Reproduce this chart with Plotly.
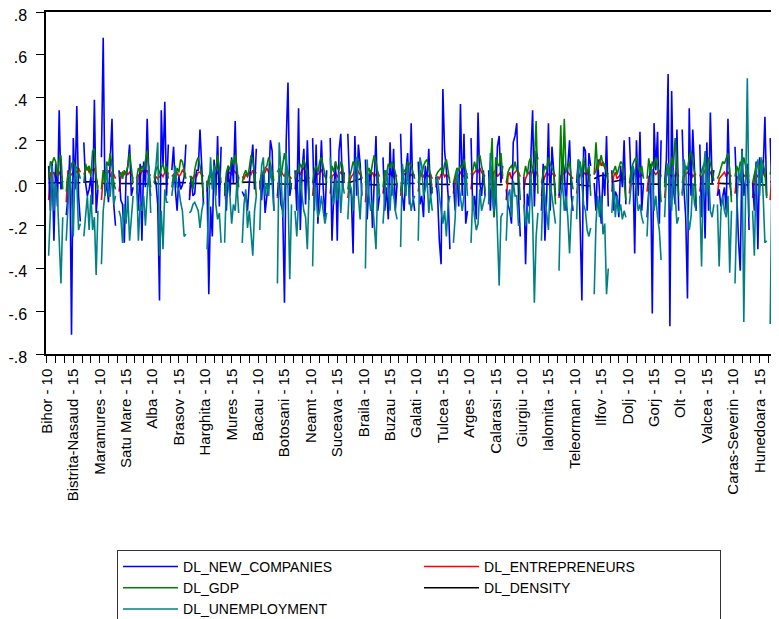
import plotly.graph_objects as go

counties = ["Bihor", "Bistrita-Nasaud", "Cluj", "Maramures", "Satu Mare", "Salaj",
            "Alba", "Brasov", "Covasna", "Harghita", "Mures", "Sibiu",
            "Bacau", "Botosani", "Iasi", "Neamt", "Suceava", "Vaslui",
            "Braila", "Buzau", "Constanta", "Galati", "Tulcea", "Vrancea",
            "Arges", "Calarasi", "Dambovita", "Giurgiu", "Ialomita", "Prahova", "Teleorman",
            "Ilfov", "Bucuresti", "Dolj", "Gorj", "Mehedinti", "Olt", "Valcea",
            "Arad", "Caras-Severin", "Hunedoara", "Timis"]
years = ["10", "11", "12", "13", "14", "15", "16", "17", "18", "19"]

# values for years 11..19 of each county (year 10 is NA after differencing)
new_companies = [
    [0.08, -0.13, 0.10, -0.27, 0.09, -0.11, 0.34, -0.03, 0.01],
    [-0.15, -0.06, 0.13, -0.71, 0.21, -0.03, 0.36, -0.06, -0.18],
    [0.19, 0.0, -0.06, -0.03, 0.03, -0.10, 0.39, -0.14, -0.03],
    [0.12, 0.68, -0.06, 0.0, -0.09, 0.09, 0.30, -0.10, -0.20],
    [0.06, -0.08, -0.10, -0.28, 0.03, 0.08, 0.18, -0.06, -0.02],
    [0.0, -0.13, 0.09, -0.27, 0.10, -0.02, 0.30, 0.01, -0.06],
    [0.03, 0.0, -0.10, -0.55, 0.34, 0.08, 0.38, -0.06, 0.18],
    [0.06, 0.17, -0.03, -0.13, 0.03, -0.03, -0.01, 0.03, 0.18],
    [-0.08, 0.03, -0.06, -0.05, 0.06, 0.06, 0.25, 0.05, -0.10],
    [0.01, -0.52, -0.11, -0.25, 0.11, -0.06, 0.22, -0.11, 0.17],
    [0.0, -0.13, 0.08, -0.06, 0.12, 0.0, 0.29, -0.06, 0.03],
    [-0.04, -0.06, -0.05, -0.13, 0.0, 0.11, 0.18, -0.03, 0.16],
    [0.01, -0.08, 0.06, -0.14, -0.06, 0.0, 0.20, 0.15, -0.13],
    [-0.06, 0.03, -0.10, -0.13, -0.56, 0.20, 0.47, -0.06, 0.0],
    [0.06, -0.13, 0.35, -0.22, 0.06, 0.16, -0.10, 0.20, -0.06],
    [0.21, -0.13, 0.18, -0.19, 0.0, 0.20, -0.02, -0.16, 0.06],
    [0.21, -0.27, -0.05, 0.10, -0.27, 0.15, 0.23, -0.02, 0.05],
    [0.23, 0.0, -0.06, -0.33, 0.22, -0.06, 0.18, 0.09, -0.06],
    [0.11, -0.17, 0.0, 0.06, -0.21, 0.03, 0.22, -0.13, -0.06],
    [0.12, -0.13, -0.02, -0.17, 0.19, -0.06, 0.16, -0.13, 0.0],
    [0.23, -0.06, -0.13, 0.06, 0.14, -0.10, 0.28, -0.06, -0.13],
    [0.10, -0.10, -0.06, -0.16, 0.08, 0.0, 0.16, -0.06, -0.02],
    [0.03, -0.06, -0.27, -0.38, 0.44, 0.15, 0.06, -0.06, -0.31],
    [0.0, -0.13, 0.06, -0.11, 0.37, -0.06, 0.23, -0.19, -0.13],
    [0.21, -0.13, -0.06, -0.17, 0.33, 0.0, -0.06, 0.06, -0.06],
    [0.06, -0.13, 0.08, -0.16, -0.06, 0.17, 0.22, 0.0, 0.08],
    [-0.03, -0.10, -0.13, -0.19, 0.19, 0.22, 0.28, -0.06, -0.25],
    [0.03, -0.38, -0.05, -0.11, 0.12, 0.34, -0.11, 0.15, 0.11],
    [-0.13, 0.09, -0.27, -0.06, 0.28, -0.13, 0.17, 0.06, -0.06],
    [-0.06, 0.0, 0.12, 0.06, -0.13, 0.08, 0.20, -0.06, -0.13],
    [0.0, 0.11, -0.19, -0.55, 0.17, 0.15, -0.13, 0.14, 0.08],
    [0.0, -0.13, 0.11, -0.06, -0.19, 0.05, -0.06, 0.22, -0.11],
    [0.06, -0.13, -0.04, -0.06, -0.16, 0.08, -0.02, 0.20, -0.10],
    [0.215, 0.0, 0.08, -0.33, 0.20, -0.06, 0.24, -0.13, 0.0],
    [-0.16, -0.03, 0.09, -0.61, 0.28, 0.06, 0.24, -0.19, 0.20],
    [0.0, 0.11, 0.51, -0.67, 0.43, -0.03, -0.10, 0.25, -0.13],
    [0.25, -0.03, -0.16, -0.54, 0.35, -0.06, 0.25, 0.06, -0.13],
    [0.18, -0.16, 0.06, -0.26, 0.19, -0.13, 0.33, 0.0, 0.06],
    [-0.06, -0.03, -0.11, -0.06, -0.02, -0.13, 0.30, 0.0, -0.06],
    [0.17, -0.06, -0.27, -0.41, 0.16, -0.06, 0.03, 0.09, -0.22],
    [0.0, -0.13, 0.10, -0.31, 0.12, 0.0, 0.06, 0.31, -0.06],
    [0.21, -0.06, 0.06, -0.03, -0.10, -0.15, 0.05, -0.05, -0.20],
]

entrepreneurs = [
    [-0.08, 0.05, 0.04, 0.05, 0.02, 0.04, 0.05, 0.03, 0.02],
    [-0.09, 0.06, 0.03, 0.04, 0.05, 0.06, 0.05, 0.07, 0.05],
    [0.04, 0.06, 0.07, 0.05, 0.06, 0.06, 0.07, 0.03, -0.02],
    [-0.08, 0.03, 0.05, 0.04, 0.06, 0.03, 0.05, 0.04, 0.02],
    [-0.04, 0.03, 0.05, 0.04, 0.05, 0.04, 0.05, 0.04, 0.02],
    [-0.05, 0.04, 0.03, 0.06, 0.05, 0.05, 0.06, 0.03, 0.04],
    [0.0, 0.03, 0.02, 0.03, 0.04, 0.03, 0.05, 0.06, 0.04],
    [0.03, 0.04, 0.02, 0.05, 0.03, 0.04, 0.06, 0.05, 0.04],
    [-0.06, 0.03, 0.02, 0.04, 0.03, 0.05, 0.05, 0.04, 0.03],
    [-0.04, 0.02, 0.03, 0.04, 0.03, 0.04, 0.05, 0.03, 0.02],
    [-0.06, 0.03, 0.04, 0.05, 0.04, 0.06, 0.05, 0.04, 0.03],
    [0.03, 0.02, 0.04, 0.03, 0.05, 0.04, 0.06, 0.04, 0.05],
    [-0.03, 0.03, 0.04, 0.05, 0.07, 0.05, 0.03, 0.02, 0.03],
    [-0.07, 0.03, 0.06, 0.04, 0.03, 0.06, 0.04, 0.03, 0.02],
    [-0.03, 0.04, 0.05, 0.04, 0.06, 0.07, 0.05, 0.04, 0.02],
    [-0.06, 0.04, 0.05, 0.04, 0.05, 0.06, 0.04, 0.03, 0.03],
    [-0.05, 0.03, 0.04, 0.05, 0.03, 0.04, 0.05, 0.04, 0.02],
    [-0.07, 0.01, 0.03, 0.04, 0.06, 0.07, 0.05, 0.04, 0.02],
    [-0.09, 0.02, 0.04, 0.03, 0.05, 0.03, 0.04, 0.05, 0.03],
    [-0.05, 0.03, 0.05, 0.04, 0.04, 0.05, 0.03, 0.04, 0.03],
    [-0.06, 0.03, 0.04, 0.05, 0.04, 0.03, 0.04, 0.03, 0.04],
    [-0.04, 0.03, 0.04, 0.03, 0.05, 0.04, 0.03, 0.04, 0.02],
    [-0.02, 0.03, 0.02, 0.04, 0.05, 0.03, 0.04, 0.03, 0.02],
    [-0.05, 0.02, 0.04, 0.03, 0.05, 0.04, 0.03, 0.05, 0.04],
    [-0.03, 0.04, 0.05, 0.06, 0.05, 0.07, 0.05, 0.04, 0.03],
    [-0.05, 0.04, 0.02, 0.05, 0.06, 0.03, 0.04, 0.05, 0.02],
    [-0.08, 0.03, 0.05, 0.02, 0.04, 0.05, 0.06, 0.05, 0.03],
    [-0.03, 0.02, 0.04, 0.05, 0.03, 0.06, 0.04, 0.05, 0.03],
    [-0.06, 0.01, 0.03, 0.05, 0.04, 0.03, 0.04, 0.05, 0.03],
    [-0.07, 0.03, 0.05, 0.04, 0.06, 0.05, 0.04, 0.03, 0.02],
    [-0.05, 0.02, 0.04, 0.03, 0.05, 0.04, 0.05, 0.03, 0.04],
    [0.04, 0.06, 0.10, 0.11, 0.08, 0.10, 0.07, 0.05, 0.04],
    [-0.04, 0.03, 0.05, 0.02, 0.03, 0.04, 0.02, 0.03, 0.03],
    [-0.05, 0.04, 0.03, 0.05, 0.04, 0.05, 0.03, 0.04, 0.03],
    [-0.04, 0.03, 0.04, 0.06, 0.05, 0.04, 0.05, 0.06, 0.03],
    [-0.07, 0.03, 0.05, 0.04, 0.03, 0.04, 0.03, 0.05, 0.03],
    [-0.05, 0.03, 0.04, 0.05, 0.04, 0.05, 0.03, 0.04, 0.04],
    [-0.04, 0.03, 0.04, 0.06, 0.05, 0.04, 0.05, 0.03, 0.04],
    [-0.06, 0.02, 0.03, 0.04, 0.05, 0.03, 0.05, 0.04, 0.03],
    [-0.05, 0.03, 0.02, 0.04, 0.05, 0.03, 0.04, 0.05, 0.03],
    [-0.07, 0.03, 0.04, 0.03, 0.05, 0.04, 0.05, 0.03, 0.02],
    [-0.08, 0.05, 0.04, 0.03, 0.05, 0.04, 0.03, 0.03, 0.02],
]

gdp = [
    [0.02, 0.10, 0.09, 0.12, 0.10, 0.03, 0.11, 0.13, -0.03],
    [-0.04, 0.04, 0.03, 0.09, 0.10, 0.08, 0.07, 0.05, 0.02],
    [0.0, 0.09, 0.06, 0.08, 0.03, 0.15, 0.16, 0.03, -0.03],
    [-0.03, 0.06, 0.0, 0.10, 0.08, 0.14, 0.08, 0.0, -0.03],
    [0.03, 0.05, 0.02, 0.06, 0.04, 0.08, 0.14, 0.06, 0.0],
    [0.02, 0.07, 0.05, 0.08, 0.06, 0.10, 0.15, 0.05, -0.02],
    [0.0, 0.06, 0.08, 0.04, 0.07, 0.09, 0.05, 0.08, 0.02],
    [-0.02, 0.04, 0.02, 0.07, 0.05, 0.11, 0.10, 0.06, 0.02],
    [0.03, 0.03, -0.03, 0.06, 0.10, 0.12, 0.08, 0.03, -0.07],
    [-0.02, 0.03, 0.05, 0.02, 0.08, 0.06, 0.13, 0.06, 0.0],
    [-0.05, 0.05, 0.08, 0.06, 0.11, 0.09, 0.13, 0.08, -0.02],
    [0.0, 0.04, 0.06, 0.03, 0.07, 0.13, 0.10, 0.05, -0.06],
    [0.0, 0.05, 0.04, 0.07, 0.08, 0.12, 0.09, 0.05, 0.01],
    [0.05, 0.07, 0.03, 0.10, 0.14, 0.09, 0.06, 0.02, -0.03],
    [0.02, 0.06, 0.05, 0.09, 0.07, 0.11, 0.08, 0.04, -0.08],
    [0.0, 0.06, 0.08, 0.05, 0.10, 0.12, 0.08, 0.04, 0.0],
    [0.02, 0.08, 0.05, 0.10, 0.07, 0.06, 0.10, 0.08, 0.0],
    [-0.03, 0.03, 0.06, 0.10, 0.08, 0.12, 0.10, 0.06, 0.02],
    [0.0, 0.05, 0.07, 0.04, 0.09, 0.13, 0.10, 0.05, -0.06],
    [-0.02, 0.06, 0.04, 0.09, 0.07, 0.10, 0.08, 0.05, -0.01],
    [-0.04, 0.04, 0.06, 0.05, 0.10, 0.09, 0.08, 0.05, 0.02],
    [0.0, 0.06, 0.03, 0.08, 0.10, 0.11, 0.07, 0.04, -0.05],
    [0.03, 0.05, 0.06, 0.07, 0.04, 0.09, 0.11, 0.05, 0.0],
    [0.0, 0.04, 0.07, 0.06, 0.08, 0.07, 0.11, 0.06, 0.02],
    [0.04, 0.06, 0.10, 0.06, 0.12, 0.13, 0.08, 0.04, -0.04],
    [-0.06, 0.06, 0.21, -0.16, 0.12, 0.09, 0.08, 0.14, 0.03],
    [0.0, 0.05, 0.07, 0.08, 0.06, 0.10, 0.06, 0.05, -0.08],
    [0.03, 0.08, 0.04, 0.10, 0.12, 0.05, 0.10, 0.29, -0.05],
    [0.0, 0.05, 0.08, 0.06, 0.12, 0.09, 0.07, 0.05, -0.10],
    [-0.04, 0.27, -0.02, 0.30, 0.05, 0.08, 0.10, 0.02, -0.03],
    [0.02, 0.07, 0.10, 0.03, 0.12, 0.06, 0.05, 0.08, -0.06],
    [0.04, 0.19, 0.06, 0.10, 0.13, 0.08, 0.09, 0.05, 0.0],
    [0.03, 0.06, 0.08, 0.04, 0.07, 0.10, 0.09, 0.02, -0.08],
    [0.0, 0.06, 0.09, 0.11, 0.12, 0.07, 0.05, 0.08, 0.02],
    [0.02, 0.115, 0.05, 0.10, 0.07, 0.12, 0.08, 0.04, -0.09],
    [-0.02, 0.06, 0.09, 0.04, 0.12, 0.08, 0.21, 0.10, -0.06],
    [0.0, 0.05, 0.08, 0.06, 0.12, 0.15, 0.09, 0.05, -0.09],
    [0.03, 0.06, 0.08, 0.10, 0.05, 0.12, 0.09, 0.06, 0.01],
    [0.02, 0.04, 0.07, 0.10, 0.09, 0.12, 0.14, 0.06, -0.09],
    [0.03, 0.08, 0.05, 0.10, 0.07, 0.12, 0.08, 0.05, 0.0],
    [0.0, 0.05, 0.08, 0.10, 0.06, 0.11, 0.09, 0.05, -0.07],
    [0.04, 0.08, 0.10, 0.05, 0.12, 0.09, 0.07, 0.04, 0.10],
]

density = [
    [0.001, 0.0, 0.0, -0.001, 0.0, 0.001, 0.0, -0.001, 0.0],
    [0.002, 0.002, 0.001, 0.002, 0.003, 0.002, 0.001, 0.002, 0.001],
    [0.004, 0.005, 0.006, 0.005, 0.006, 0.007, 0.006, 0.005, 0.004],
    [-0.001, -0.001, -0.002, -0.001, 0.0, -0.001, -0.002, -0.001, -0.002],
    [-0.002, -0.002, -0.003, -0.002, -0.003, -0.002, -0.003, -0.004, -0.003],
    [-0.003, -0.004, -0.003, -0.004, -0.005, -0.004, -0.005, -0.004, -0.005],
    [-0.002, -0.003, -0.002, -0.003, -0.004, -0.003, -0.004, -0.003, -0.004],
    [0.002, 0.003, 0.002, 0.001, 0.002, 0.003, 0.002, 0.001, 0.002],
    [-0.001, -0.002, -0.001, -0.002, -0.001, -0.002, -0.003, -0.002, -0.003],
    [-0.002, -0.003, -0.002, -0.003, -0.004, -0.003, -0.004, -0.005, -0.004],
    [-0.001, -0.002, -0.001, -0.002, -0.003, -0.002, -0.003, -0.002, -0.003],
    [0.003, 0.004, 0.003, 0.004, 0.005, 0.004, 0.003, 0.004, 0.003],
    [-0.003, -0.004, -0.003, -0.004, -0.005, -0.004, -0.005, -0.006, -0.005],
    [-0.003, -0.004, -0.005, -0.004, -0.005, -0.006, -0.005, -0.006, -0.007],
    [0.008, 0.010, 0.012, 0.014, 0.013, 0.011, 0.009, 0.007, 0.006],
    [-0.004, -0.005, -0.004, -0.005, -0.006, -0.005, -0.006, -0.007, -0.006],
    [0.002, 0.003, 0.004, 0.005, 0.006, 0.005, 0.006, 0.005, 0.004],
    [0.0, 0.003, 0.006, 0.009, 0.012, 0.015, 0.017, 0.019, 0.020],
    [-0.006, -0.007, -0.006, -0.008, -0.007, -0.008, -0.009, -0.008, -0.009],
    [-0.004, -0.005, -0.004, -0.006, -0.005, -0.006, -0.007, -0.006, -0.007],
    [0.0, -0.001, 0.0, -0.001, -0.002, -0.001, -0.002, -0.001, -0.002],
    [-0.004, -0.005, -0.004, -0.005, -0.006, -0.005, -0.006, -0.007, -0.006],
    [-0.005, -0.006, -0.005, -0.006, -0.007, -0.006, -0.007, -0.008, -0.007],
    [-0.003, -0.004, -0.003, -0.004, -0.005, -0.004, -0.005, -0.006, -0.005],
    [-0.003, -0.004, -0.003, -0.004, -0.005, -0.004, -0.005, -0.004, -0.005],
    [-0.005, -0.006, -0.005, -0.007, -0.006, -0.007, -0.008, -0.007, -0.008],
    [-0.002, -0.003, -0.002, -0.003, -0.004, -0.003, -0.004, -0.005, -0.004],
    [-0.004, -0.005, -0.004, -0.005, -0.006, -0.005, -0.006, -0.007, -0.006],
    [-0.004, -0.005, -0.004, -0.006, -0.005, -0.006, -0.007, -0.006, -0.007],
    [-0.003, -0.004, -0.003, -0.004, -0.005, -0.004, -0.005, -0.004, -0.005],
    [-0.006, -0.008, -0.010, -0.010, -0.011, -0.012, -0.012, -0.013, -0.014],
    [0.020, 0.025, 0.030, 0.033, 0.035, 0.037, 0.036, 0.034, 0.030],
    [0.005, 0.006, 0.008, 0.010, 0.012, 0.015, 0.018, 0.020, 0.015],
    [-0.002, -0.003, -0.002, -0.003, -0.004, -0.003, -0.004, -0.005, -0.004],
    [-0.004, -0.005, -0.004, -0.005, -0.006, -0.005, -0.006, -0.007, -0.006],
    [-0.006, -0.007, -0.008, -0.007, -0.008, -0.009, -0.008, -0.009, -0.010],
    [-0.006, -0.007, -0.006, -0.008, -0.007, -0.008, -0.009, -0.008, -0.009],
    [-0.003, -0.004, -0.003, -0.004, -0.005, -0.004, -0.005, -0.004, -0.005],
    [-0.001, -0.002, -0.001, -0.002, -0.003, -0.002, -0.003, -0.002, -0.003],
    [-0.006, -0.007, -0.006, -0.008, -0.007, -0.008, -0.009, -0.008, -0.009],
    [-0.006, -0.007, -0.008, -0.007, -0.008, -0.009, -0.008, -0.009, -0.010],
    [0.006, 0.008, 0.010, 0.012, 0.013, 0.014, 0.015, 0.016, 0.016],
]

unemployment = [
    [-0.34, -0.11, 0.08, -0.13, 0.0, -0.06, -0.31, -0.47, -0.16],
    [-0.27, -0.11, 0.06, -0.06, -0.25, 0.08, 0.0, -0.22, -0.19],
    [-0.25, -0.13, -0.06, -0.22, -0.055, -0.22, -0.16, -0.43, -0.13],
    [-0.38, -0.13, -0.05, 0.08, -0.06, -0.06, 0.05, -0.10, -0.06],
    [-0.13, -0.16, -0.28, -0.10, -0.19, -0.06, -0.27, -0.14, -0.06],
    [0.03, -0.27, -0.10, -0.13, -0.06, -0.20, -0.05, 0.08, -0.14],
    [0.03, 0.08, 0.19, -0.34, -0.13, -0.31, -0.03, -0.09, -0.09],
    [-0.06, 0.01, 0.08, -0.02, -0.03, -0.09, -0.13, -0.25, -0.24],
    [-0.14, -0.13, -0.10, -0.09, -0.11, -0.13, -0.21, -0.13, -0.09],
    [-0.31, -0.06, 0.12, -0.03, 0.08, -0.10, -0.17, -0.14, -0.28],
    [-0.28, 0.0, 0.0, -0.06, -0.19, -0.10, -0.13, 0.0, -0.14],
    [-0.28, -0.10, -0.03, -0.21, -0.13, -0.22, -0.34, -0.13, -0.06],
    [-0.22, 0.08, 0.12, -0.06, 0.0, -0.06, 0.08, 0.0, -0.13],
    [-0.47, 0.19, 0.06, -0.16, -0.06, 0.14, -0.03, -0.45, -0.10],
    [-0.13, -0.25, -0.08, 0.03, -0.06, -0.13, -0.16, -0.31, -0.03],
    [-0.39, 0.0, -0.06, -0.16, -0.13, -0.06, -0.13, -0.19, -0.14],
    [0.12, -0.06, -0.10, 0.02, -0.08, 0.05, -0.14, 0.0, -0.05],
    [-0.17, 0.0, -0.03, -0.13, 0.08, 0.12, -0.06, -0.17, 0.0],
    [-0.40, 0.11, -0.06, -0.13, -0.08, -0.19, -0.31, 0.0, -0.06],
    [-0.19, -0.06, 0.06, -0.03, -0.13, 0.03, -0.06, -0.13, -0.17],
    [-0.30, 0.09, 0.0, -0.06, 0.08, -0.06, -0.13, -0.08, -0.06],
    [-0.27, 0.12, 0.08, -0.06, -0.03, 0.03, -0.14, -0.05, -0.13],
    [0.0, 0.03, -0.06, -0.13, -0.19, -0.13, -0.25, -0.10, -0.06],
    [-0.28, -0.16, 0.06, 0.0, -0.06, -0.13, -0.06, 0.06, -0.06],
    [-0.28, -0.06, -0.16, -0.22, -0.19, -0.03, -0.13, -0.10, -0.06],
    [-0.10, 0.14, -0.06, -0.13, 0.03, -0.19, -0.48, -0.16, -0.14],
    [-0.27, -0.06, -0.03, -0.16, 0.01, -0.06, -0.06, -0.20, -0.19],
    [-0.10, -0.20, -0.13, -0.19, 0.05, -0.16, -0.56, -0.25, -0.14],
    [-0.27, 0.0, -0.06, -0.13, -0.22, 0.0, -0.06, -0.14, -0.19],
    [-0.41, -0.06, 0.0, -0.13, -0.06, -0.16, -0.33, -0.13, -0.06],
    [-0.17, 0.11, 0.09, 0.01, -0.10, -0.13, -0.22, -0.25, -0.21],
    [-0.52, -0.19, -0.06, -0.16, -0.06, -0.24, -0.19, -0.52, -0.40],
    [-0.14, 0.0, -0.16, -0.06, -0.14, -0.10, -0.17, -0.13, -0.16],
    [-0.10, 0.0, 0.08, 0.05, -0.06, -0.13, -0.10, -0.16, -0.19],
    [-0.25, -0.06, 0.03, 0.06, -0.13, -0.06, -0.16, -0.22, -0.36],
    [-0.16, 0.03, 0.09, -0.06, -0.13, 0.06, -0.06, -0.19, -0.16],
    [-0.06, 0.11, 0.06, -0.13, -0.22, -0.16, 0.0, -0.10, -0.13],
    [-0.06, -0.39, 0.03, 0.15, -0.06, 0.06, -0.13, -0.16, -0.10],
    [-0.10, -0.39, -0.13, -0.06, -0.13, -0.16, -0.06, -0.42, -0.13],
    [-0.47, -0.13, 0.06, 0.0, 0.15, -0.65, -0.06, 0.49, -0.16],
    [-0.13, -0.34, 0.06, 0.11, -0.06, 0.12, -0.06, -0.28, -0.27],
    [-0.66, 0.05, -0.10, -0.18, -0.20, -0.10, -0.15, -0.12, -0.21],
]

y_tickvals = [-0.8, -0.6, -0.4, -0.2, 0.0, 0.2, 0.4, 0.6, 0.8]
y_ticktext = ["-.8", "-.6", "-.4", "-.2", ".0", ".2", ".4", ".6", ".8"]

obs_labels = [f"{c} - {y}" for c in counties for y in years]
x_idx = list(range(len(obs_labels)))
label_step = 15
tick_vals = x_idx[::label_step]
tick_text = obs_labels[::label_step]


def panel(series):
    out = []
    for vals in series:
        out.extend([None] + list(vals))
    return out


traces = [
    ("DL_DENSITY", density, "#000000", 4),
    ("DL_ENTREPRENEURS", entrepreneurs, "#FF0000", 2),
    ("DL_NEW_COMPANIES", new_companies, "#0000FF", 1),
    ("DL_GDP", gdp, "#008000", 3),
    ("DL_UNEMPLOYMENT", unemployment, "#008080", 5),
]

FONT = "Liberation Sans, Arial, sans-serif"

fig = go.Figure()
for name, series, color, rank in traces:
    fig.add_trace(go.Scatter(
        x=x_idx, y=panel(series), name=name, mode="lines",
        line=dict(color=color, width=1.6), connectgaps=False,
        legendrank=rank, hoverinfo="skip",
    ))

# the page adds an 8px body margin, so the figure is 8px smaller on each side
fig.update_layout(
    width=771, height=611,
    margin=dict(l=38, r=0, t=4, b=265, autoexpand=False),
    paper_bgcolor="white", plot_bgcolor="white",
    font=dict(family=FONT, size=16, color="black"),
    showlegend=True,
    legend=dict(
        orientation="h", xref="container", yref="container",
        x=0.1414, y=0.1130, xanchor="left", yanchor="top",
        bgcolor="white", bordercolor="#333333", borderwidth=1,
        font=dict(family=FONT, size=14, color="black"),
        itemwidth=55, entrywidth=231, entrywidthmode="pixels",
        traceorder="normal", tracegroupgap=0, itemclick=False,
    ),
)

fig.update_xaxes(
    range=[-0.5, 416.0], showgrid=False, zeroline=False,
    showline=True, linecolor="black", linewidth=1.5, mirror=True,
    tickmode="array", tickvals=tick_vals, ticktext=tick_text,
    tickangle=-90, ticks="outside", ticklen=7, tickwidth=1, tickcolor="black",
    ticklabeloverflow="allow",
    tickfont=dict(family=FONT, size=15, color="black"),
    minor=dict(dtick=5, tick0=0, ticks="outside", ticklen=7, tickwidth=1,
               tickcolor="black", showgrid=False),
)
fig.update_yaxes(
    range=[-0.8, 0.8], showgrid=False, zeroline=False,
    showline=True, linecolor="black", linewidth=1.5, mirror=False,
    tickmode="array", tickvals=y_tickvals, ticktext=y_ticktext,
    ticks="outside", ticklen=8, tickwidth=1, tickcolor="black",
    ticklabelstandoff=6, ticklabeloverflow="allow", ticklabelshift=3,
    tickfont=dict(family=FONT, size=16, color="black"),
)

fig.write_html("out.html")
